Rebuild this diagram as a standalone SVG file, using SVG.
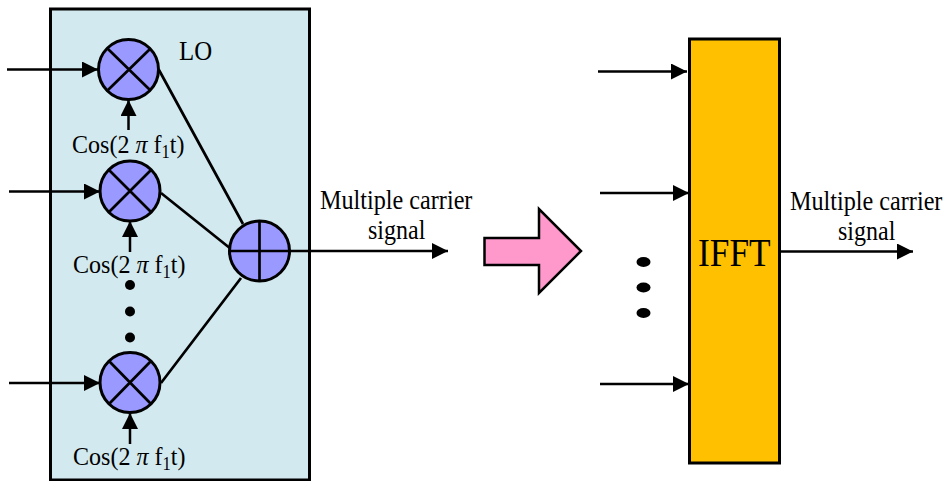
<svg xmlns="http://www.w3.org/2000/svg" width="947" height="481" viewBox="0 0 947 481">
<style>
text{font-family:"Liberation Serif","Times New Roman",serif;fill:#000;font-size:27px}
.n{fill:#9999ff;stroke:#000;stroke-width:3}
.l{fill:none;stroke:#000;stroke-width:2.700}
.a{fill:none;stroke:#000;stroke-width:2.500;marker-end:url(#h)}
.d{fill:#000;stroke:none}
.c{font-size:26px}
.s{font-size:18px}
</style>
<defs>
<marker id="h" markerUnits="userSpaceOnUse" markerWidth="16" markerHeight="16" refX="14" refY="7" orient="auto" viewBox="0 0 14 14"><path d="M0 0L14 7L0 14Z" fill="#000"/></marker>
</defs>
<rect width="947" height="481" fill="#fff"/>
<g id="panel"><rect x="50.500" y="9" width="259" height="471" fill="#d2e9ef" stroke="#000" stroke-width="3"/></g>
<g id="connectors">
<path class="l" d="M159 70L243 224M161 193L231 249M161 383L241 278"/>
<path class="a" d="M7 69.500H98"/>
<path class="a" d="M9 191.500H100"/>
<path class="a" d="M9 383H100"/>
<path class="a" d="M128.500 130V100"/>
<path class="a" d="M130 252V221"/>
<path class="a" d="M130 444V413"/>
<path class="a" d="M289 251H448"/>
<path class="a" d="M598 71.500H687"/>
<path class="a" d="M600 193H689"/>
<path class="a" d="M600 384H689"/>
<path class="a" d="M780 251.500H913"/>
</g>
<g id="mixer1"><circle class="n" cx="128.500" cy="69.500" r="30"/><path class="l" d="M108 49L150 90M150 49L108 90"/></g>
<g id="mixer2"><circle class="n" cx="130" cy="191" r="30"/><path class="l" d="M109 170L151 212M151 170L109 212"/></g>
<g id="mixer3"><circle class="n" cx="130" cy="382.500" r="30"/><path class="l" d="M109 361L151 404M151 361L109 404"/></g>
<g id="adder"><circle class="n" cx="259.500" cy="251" r="30"/><path class="l" d="M229.500 251H289.500M259.500 221V281"/></g>
<g id="dots-left"><circle class="d" cx="130" cy="285" r="5"/><circle class="d" cx="130" cy="311.500" r="5"/><circle class="d" cx="130" cy="337.500" r="5"/></g>
<g id="dots-right"><ellipse class="d" cx="643.500" cy="262" rx="7" ry="5"/><ellipse class="d" cx="643.500" cy="287.500" rx="7" ry="5"/><ellipse class="d" cx="643.500" cy="313" rx="7" ry="5"/></g>
<g id="big-arrow"><path d="M484.500 238H539V209L581 251L539 293V265H484.500Z" fill="#ff99cc" stroke="#000" stroke-width="2.500"/></g>
<g id="ifft"><rect x="689.500" y="39" width="90" height="424" fill="#ffc000" stroke="#000" stroke-width="3"/><text transform="translate(698 266) scale(.905 1)" style="font-size:39px">IFFT</text></g>
<g id="labels">
<text transform="translate(179 60) scale(.92 1)">LO</text>
<text class="c" transform="translate(72 153) scale(.925 1)">Cos(2 <tspan font-style="italic">π</tspan> f<tspan dy="5" class="s">1</tspan><tspan dy="-5">t)</tspan></text>
<text class="c" transform="translate(73 273) scale(.925 1)">Cos(2 <tspan font-style="italic">π</tspan> f<tspan dy="5" class="s">1</tspan><tspan dy="-5">t)</tspan></text>
<text class="c" transform="translate(73 465) scale(.925 1)">Cos(2 <tspan font-style="italic">π</tspan> f<tspan dy="5" class="s">1</tspan><tspan dy="-5">t)</tspan></text>
<text transform="translate(320 209) scale(.896 1)">Multiple carrier</text>
<text transform="translate(368 239) scale(.89 1)">signal</text>
<text transform="translate(790 210) scale(.896 1)">Multiple carrier</text>
<text transform="translate(838 240) scale(.89 1)">signal</text>
</g>
</svg>
